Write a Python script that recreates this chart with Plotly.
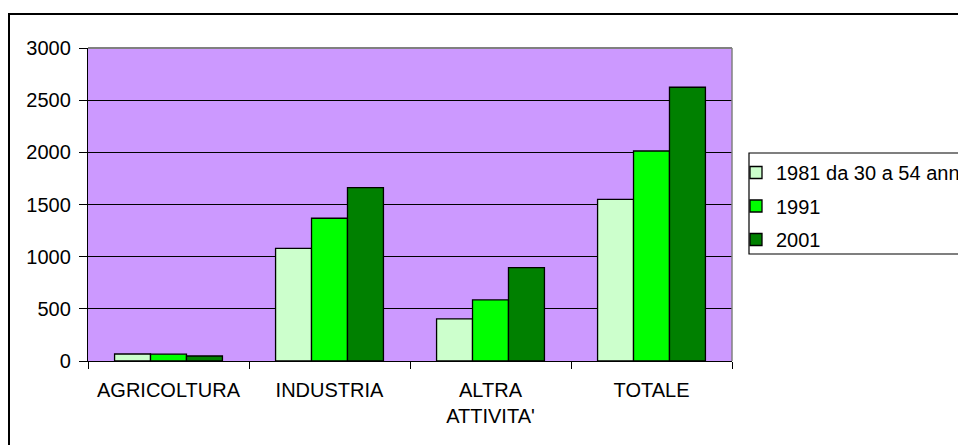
import plotly.graph_objects as go

categories = ["AGRICOLTURA", "INDUSTRIA", "ALTRA<br>ATTIVITA'", "TOTALE"]
series_names = ["1981 da 30 a 54 anni", "1991", "2001"]
values_1981 = [67, 1080, 403, 1550]
values_1991 = [65, 1368, 585, 2013]
values_2001 = [48, 1662, 895, 2624]
colors = ["#CCFFCC", "#00FF00", "#008000"]
y_ticks = [0, 500, 1000, 1500, 2000, 2500, 3000]

FONT = "Liberation Sans, Arial, sans-serif"

fig = go.Figure()
for i, (name, vals, col) in enumerate(zip(series_names, [values_1981, values_1991, values_2001], colors)):
    fig.add_trace(go.Bar(
        x=categories, y=vals, name=name, legendgroup=f"g{i}",
        marker=dict(color=col, line=dict(color="black", width=1.3)),
    ))

# page has an 8px body margin; figure coordinates = page coordinates - 8
OFF = 8
W, H = 966 - OFF, 445 - OFF
L, R, T, B = 88 - OFF, 966 - 732, 48 - OFF, 445 - 361
pw, ph = W - L - R, H - T - B

def px_x(px):
    # px given in page pixels
    return (px - OFF - L) / pw

def px_y(py):
    return (H - B - (py - OFF)) / ph

fig.update_layout(
    width=W, height=H,
    margin=dict(l=L, r=R, t=T, b=B, autoexpand=False),
    paper_bgcolor="white",
    plot_bgcolor="#CC99FF",
    font=dict(family=FONT, size=20, color="black"),
    barmode="group",
    bargap=0.33,
    bargroupgap=0,
    showlegend=True,
    legend=dict(
        x=px_x(736), y=px_y(153), xanchor="left", yanchor="top",
        bgcolor="rgba(0,0,0,0)", borderwidth=0,
        font=dict(family=FONT, size=20, color="black"),
        tracegroupgap=4.5,
    ),
    xaxis=dict(
        showline=True, linecolor="black", linewidth=1.3,
        ticks="outside", ticklen=7, tickcolor="black", tickwidth=1.3,
        tickson="boundaries", showgrid=False,
        ticklabelstandoff=11,
        tickfont=dict(family=FONT, size=20, color="black"),
    ),
    yaxis=dict(
        range=[0, 3000], tickvals=y_ticks,
        showline=True, linecolor="black", linewidth=1.3,
        ticks="outside", ticklen=8, tickcolor="black", tickwidth=1.3,
        showgrid=True, gridcolor="black", gridwidth=1.2,
        zeroline=False,
        ticklabelstandoff=4,
        tickfont=dict(family=FONT, size=20, color="black"),
    ),
    shapes=[
        # outer chart border (extends beyond visible area on right/bottom)
        dict(type="rect", xref="paper", yref="paper",
             x0=px_x(9), x1=px_x(990), y0=px_y(470), y1=px_y(14),
             line=dict(color="black", width=2), fillcolor="rgba(0,0,0,0)", layer="above"),
        # plot-area border top and right (gray)
        dict(type="line", xref="paper", yref="paper", x0=0, x1=1, y0=1, y1=1,
             line=dict(color="#808080", width=2), layer="above"),
        dict(type="line", xref="paper", yref="paper", x0=1, x1=1, y0=0, y1=1,
             line=dict(color="#808080", width=1.5), layer="above"),
        # legend box
        dict(type="rect", xref="paper", yref="paper",
             x0=px_x(749), x1=px_x(990), y0=px_y(254), y1=px_y(153),
             line=dict(color="black", width=1.2), fillcolor="rgba(0,0,0,0)", layer="above"),
    ],
)

fig.write_html("out.html")
